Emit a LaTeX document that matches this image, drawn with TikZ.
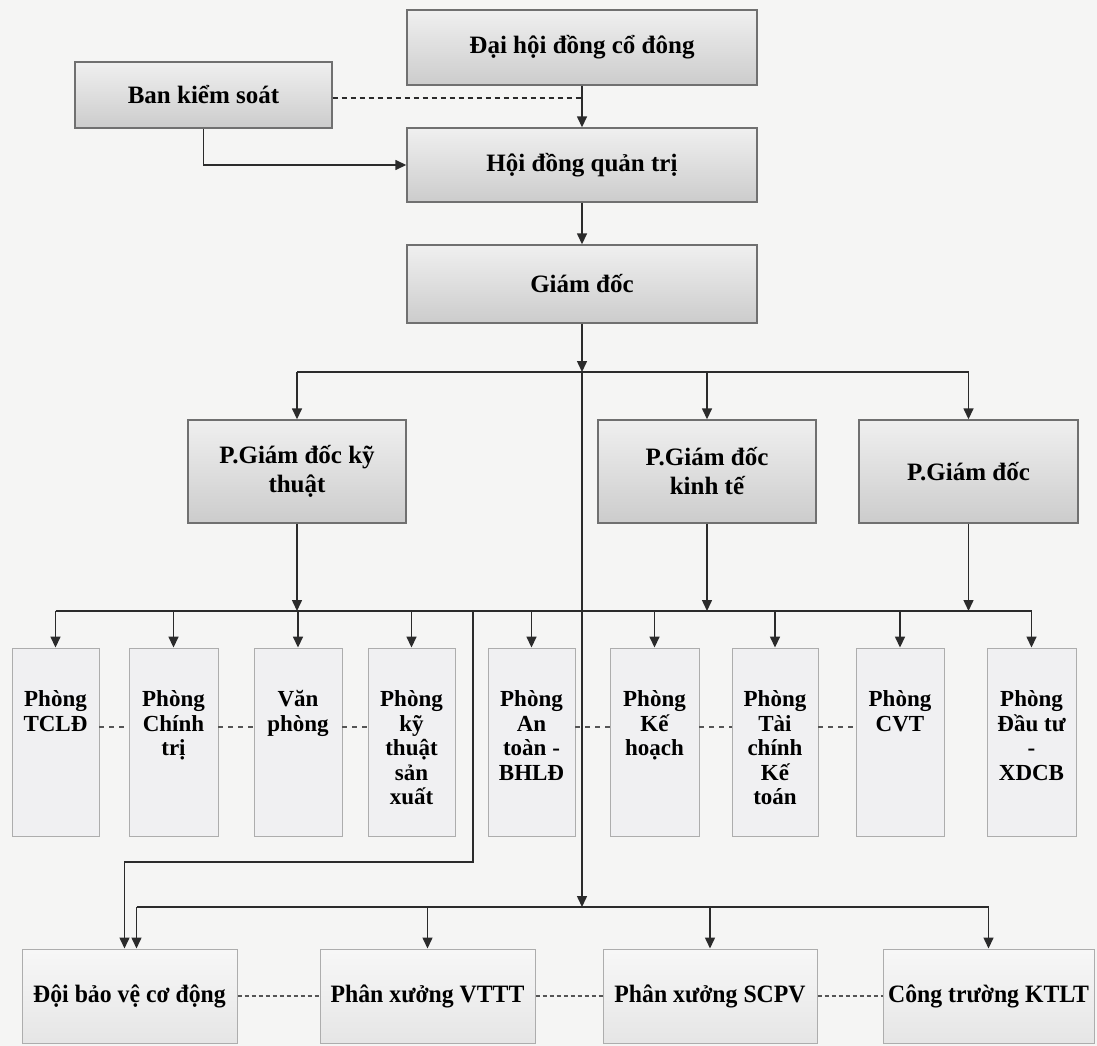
\documentclass[tikz,border=0pt]{standalone}
\usepackage{fontspec}
\usepackage{graphicx}
\setmainfont{Liberation Serif}
\usetikzlibrary{arrows.meta,calc}
\definecolor{bgcol}{HTML}{F5F5F4}
\definecolor{linecol}{HTML}{2B2B2B}
\definecolor{deptfill}{HTML}{F0F0F2}
\definecolor{topborder}{HTML}{707070}
\tikzset{
  topbox/.style={draw=topborder, line width=1.4pt, top color=gray!12, bottom color=gray!40,
    font=\fontsize{25}{29}\selectfont\bfseries, align=center, inner sep=0pt},
  deptbox/.style={draw=black!32, line width=0.9pt, fill=deptfill, inner sep=0pt},
  depttext/.style={font=\fontsize{23}{24.5}\selectfont\bfseries, align=center, anchor=north, inner sep=0pt},
  botbox/.style={draw=black!32, line width=1pt, top color=gray!6, bottom color=gray!20,
    font=\fontsize{25}{29}\selectfont\bfseries, align=center, inner sep=0pt},
  conn/.style={draw=linecol, line width=1.5pt},
  arr/.style={conn, -{Triangle[width=10pt,length=11pt]}},
  topdash/.style={draw=linecol, line width=1.3pt, dash pattern=on 5pt off 4pt},
  deptdash/.style={draw=linecol!80, line width=1.1pt, dash pattern=on 5pt off 5pt},
  botdash/.style={draw=linecol!80, line width=1.1pt, dash pattern=on 4pt off 3pt},
}
\newcommand{\cnd}[1]{\scalebox{0.95}[1]{#1}}
\begin{document}
\begin{tikzpicture}[x=1pt,y=-1pt]
\useasboundingbox (0,0) rectangle (1097,1046);
\fill[bgcol] (0,0) rectangle (1097,1046);

% top level
\node[topbox, minimum width=350pt, minimum height=75pt] (dh) at (582,47.5) {Đại hội đồng cổ đông};
\node[topbox, minimum width=257pt, minimum height=66pt] (bks) at (203.5,95) {Ban kiểm soát};
\node[topbox, minimum width=350pt, minimum height=74pt] (hdqt) at (582,165) {Hội đồng quản trị};
\node[topbox, minimum width=350pt, minimum height=78pt] (gd) at (582,284) {Giám đốc};

% deputy directors
\node[topbox, minimum width=218pt, minimum height=103pt] (pkt) at (297,471.5) {P.Giám đốc kỹ\\thuật};
\node[topbox, minimum width=218pt, minimum height=103pt] (pkte) at (707,471.5) {P.Giám đốc\\kinh tế};
\node[topbox, minimum width=219pt, minimum height=103pt] (pgd) at (968.5,471.5) {P.Giám đốc};

% departments
\foreach \n/\x/\w in {d1/55.5/87, d2/173.5/89, d3/298/88, d4/411.5/87, d5/531.5/87,
                      d6/654.5/89, d7/775/86, d8/900/88, d9/1031.5/89}{
  \node[deptbox, minimum width=\w pt, minimum height=188pt] (\n) at (\x,742) {};
}
\node[depttext] (d1t) at ([yshift=-43pt]d1.north) {Phòng\\TCLĐ};
\node[depttext] (d2t) at ([yshift=-43pt]d2.north) {Phòng\\Chính\\trị};
\node[depttext] (d3t) at ([yshift=-43pt]d3.north) {Văn\\phòng};
\node[depttext] (d4t) at ([yshift=-43pt]d4.north) {Phòng\\kỹ\\thuật\\sản\\xuất};
\node[depttext] (d5t) at ([yshift=-43pt]d5.north) {Phòng\\An\\toàn -\\BHLĐ};
\node[depttext] (d6t) at ([yshift=-43pt]d6.north) {Phòng\\Kế\\hoạch};
\node[depttext] (d7t) at ([yshift=-43pt]d7.north) {Phòng\\Tài\\chính\\Kế\\toán};
\node[depttext] (d8t) at ([yshift=-43pt]d8.north) {Phòng\\CVT};
\node[depttext] (d9t) at ([yshift=-43pt]d9.north) {Phòng\\Đầu tư\\-\\XDCB};

% bottom units
\node[botbox, minimum width=215pt, minimum height=94pt] (b1) at (129.5,996) {\cnd{Đội bảo vệ cơ động}};
\node[botbox, minimum width=215pt, minimum height=94pt] (b2) at (427.5,996) {\cnd{Phân xưởng VTTT}};
\node[botbox, minimum width=214pt, minimum height=94pt] (b3) at (710,996) {\cnd{Phân xưởng SCPV}};
\node[botbox, minimum width=211pt, minimum height=94pt] (b4) at (988.5,996) {\cnd{Công trường KTLT}};

% junction coordinates
\coordinate (j1) at (582,372);
\coordinate (j2) at (582,611);
\coordinate (j3) at (582,907);
\coordinate (k1) at (473,611);
\coordinate (k2) at (473,862);

% top connectors
\draw[arr] (dh.south) -- (hdqt.north);
\draw[topdash] ([yshift=-3pt]bks.east) -- ([yshift=-3pt]bks.east -| dh.south);
\draw[arr] (bks.south) |- (hdqt.west);
\draw[arr] (hdqt.south) -- (gd.north);
\draw[arr] (gd.south) -- (j1);
\draw[arr] (j1) -- (j3);

% deputy row
\draw[conn] (pkt.north |- j1) -- (pgd.north |- j1);
\foreach \n in {pkt,pkte,pgd}{
  \draw[arr] (\n.north |- j1) -- (\n.north);
  \draw[arr] (\n.south) -- (\n.south |- j2);
}

% department row
\draw[conn] (d1.north |- j2) -- (d9.north |- j2);
\foreach \n in {d1,d2,d3,d4,d5,d6,d7,d8,d9}{
  \draw[arr] (\n.north |- j2) -- (\n.north);
}
\foreach \a/\b in {d1/d2, d2/d3, d3/d4, d5/d6, d6/d7, d7/d8}{
  \draw[deptdash] ([yshift=15pt]\a.east) -- ([yshift=15pt]\b.west);
}

% branch to Doi bao ve
\draw[arr] (k1) -- (k2) -| ([xshift=-5pt]b1.north);

% bottom row
\draw[conn] ([xshift=7pt]b1.north |- j3) -- (b4.north |- j3);
\draw[arr] ([xshift=7pt]b1.north |- j3) -- ([xshift=7pt]b1.north);
\foreach \n in {b2,b3,b4}{
  \draw[arr] (\n.north |- j3) -- (\n.north);
}
\foreach \a/\b in {b1/b2, b2/b3, b3/b4}{
  \draw[botdash] (\a.east) -- (\b.west);
}
\end{tikzpicture}
\end{document}
